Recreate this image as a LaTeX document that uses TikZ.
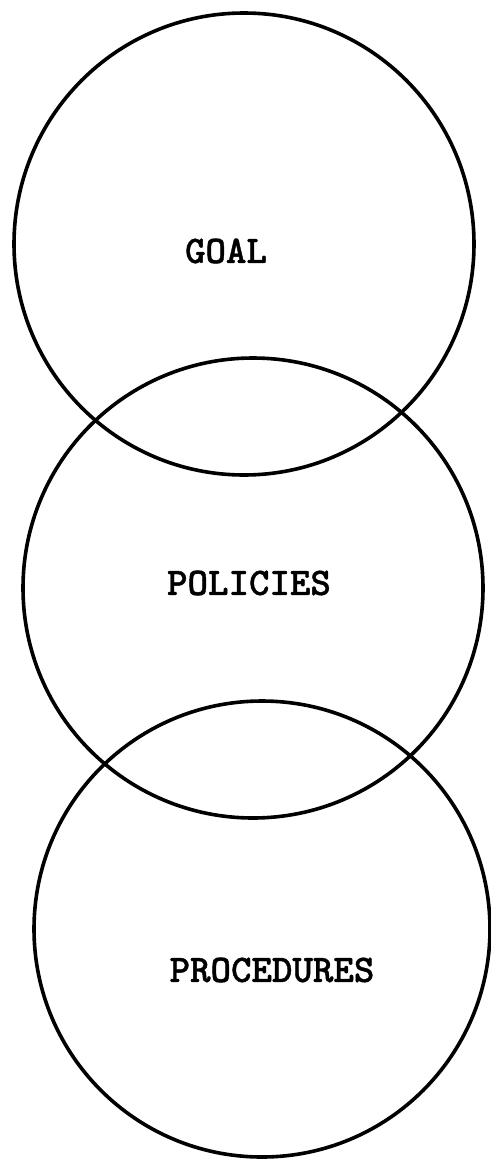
\documentclass[tikz,border=0pt]{standalone}
\usepackage{fontspec}
\newfontfamily\typewriter{lmmonolt10-bold.otf}[FakeBold=1]
\begin{document}
\begin{tikzpicture}[x=1pt, y=-1pt, line width=3.6pt,
    label/.style={font=\typewriter\fontsize{39}{39}\selectfont, inner sep=0pt}]
      \useasboundingbox (0, 0) rectangle (490, 1159);
      \draw (244, 244) ellipse (230 and 231);
      \node[label] (goal) at (226, 251) {GOAL};
      \draw (253, 588) ellipse (230 and 230);
      \node[label] (policies) at (249, 583) {POLICIES};
      \draw (262, 929) ellipse (228 and 228);
      \node[label] (procedures) at (272, 970) {PROCEDURES};
    \end{tikzpicture}
\end{document}
